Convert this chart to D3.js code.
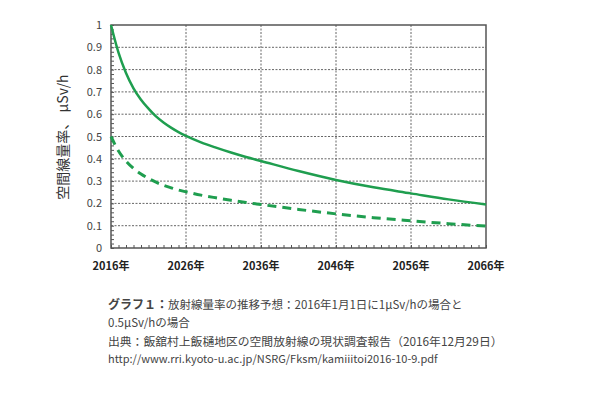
<!DOCTYPE html>
<html>
<head>
<meta charset="utf-8">
<script src="https://cdn.jsdelivr.net/npm/d3@7"></script>
<style>
body{margin:0;background:#fff;}
text{font-family:"Noto Sans CJK JP","Noto Sans",sans-serif;}
</style>
</head>
<body>
<div class="Chart"></div>
<script>
// years, denser where the curve bends
const years=[2016,2017,2018,2019,2020,2021,2022,2023,2024,2025,2026,2028,2030,2032,2034,2036,2041,2046,2051,2056,2061,2066]
const rate1=[1.0,0.876,0.785,0.716,0.665,0.625,0.59,0.563,0.54,0.52,0.503,0.474,0.45,0.428,0.408,0.39,0.345,0.305,0.272,0.245,0.218,0.195]
const rate05=[0.5,0.435,0.39,0.357,0.332,0.312,0.295,0.281,0.27,0.26,0.252,0.237,0.225,0.214,0.204,0.195,0.173,0.153,0.136,0.122,0.109,0.098]
const xTicks=[2016,2026,2036,2046,2056,2066]
const yTicks=[0,0.1,0.2,0.3,0.4,0.5,0.6,0.7,0.8,0.9,1]
const captionLines=['放射線量率の推移予想：2016年1月1日に1μSv/hの場合と','0.5μSv/hの場合']
const sourceLines=['出典：飯舘村上飯樋地区の空間放射線の現状調査報告（2016年12月29日）','http://www.rri.kyoto-u.ac.jp/NSRG/Fksm/kamiiitoi2016-10-9.pdf']

const W=600,H=394
const plot={left:111,right:486,top:25,bottom:248}
const green='#1f9e4f'

let svg=d3.select('.Chart').append('svg')
	.attr('width',W)
	.attr('height',H)

let xScale=d3.scaleLinear()
	.domain([2016,2066])
	.range([plot.left,plot.right])
let yScale=d3.scaleLinear()
	.domain([0,1])
	.range([plot.bottom,plot.top])

// dotted grid
svg.append('g')
	.selectAll('line')
	.data(yTicks.slice(1,-1))
	.join('line')
	.attr('x1',plot.left).attr('x2',plot.right)
	.attr('y1',d=>yScale(d)).attr('y2',d=>yScale(d))
	.attr('stroke','#666').attr('stroke-width',1).attr('stroke-dasharray','2,1.5')
svg.append('g')
	.selectAll('line')
	.data(xTicks.slice(1,-1))
	.join('line')
	.attr('x1',d=>xScale(d)).attr('x2',d=>xScale(d))
	.attr('y1',plot.top).attr('y2',plot.bottom)
	.attr('stroke','#666').attr('stroke-width',1).attr('stroke-dasharray','2,1.5')

// minor ticks inside the frame
let yAxis=d3.axisRight(yScale)
	.ticks(50)
	.tickSize(3)
	.tickFormat('')
svg.append('g')
	.attr('transform',`translate(${plot.left},0)`)
	.call(yAxis)
	.call(g=>g.select('.domain').remove())
	.selectAll('line').attr('stroke','#555')

let xAxis=d3.axisTop(xScale)
	.tickValues(d3.range(2016,2067))
	.tickSize(3)
	.tickFormat('')
svg.append('g')
	.attr('transform',`translate(0,${plot.bottom})`)
	.call(xAxis)
	.call(g=>g.select('.domain').remove())
	.selectAll('line').attr('stroke','#555')

// frame
svg.append('rect')
	.attr('x',plot.left).attr('y',plot.top)
	.attr('width',plot.right-plot.left).attr('height',plot.bottom-plot.top)
	.attr('fill','none').attr('stroke','#555').attr('stroke-width',1.5)

// tick labels
svg.append('g')
	.selectAll('text')
	.data(yTicks)
	.join('text')
	.attr('x',plot.left-9)
	.attr('y',d=>yScale(d)+4)
	.attr('text-anchor','end')
	.attr('font-size',11)
	.attr('fill','#444')
	.text(d=>d)

svg.append('g')
	.selectAll('text')
	.data(xTicks)
	.join('text')
	.attr('x',d=>xScale(d))
	.attr('y',plot.bottom+22)
	.attr('text-anchor','middle')
	.attr('font-size',11)
	.attr('font-weight','bold')
	.attr('fill','#222')
	.text(d=>d+'年')

svg.append('text')
	.attr('transform',`translate(68,137) rotate(-90)`)
	.attr('text-anchor','middle')
	.attr('font-size',14)
	.attr('fill','#333')
	.text('空間線量率、 μSv/h')

// curves
let line=d3.line()
	.x(d=>xScale(d.year))
	.y(d=>yScale(d.value))
	.curve(d3.curveMonotoneX)

let s1=years.map((y,i)=>({year:y,value:rate1[i]}))
let s2=years.map((y,i)=>({year:y,value:rate05[i]}))

svg.append('path')
	.datum(s1)
	.attr('d',line)
	.attr('fill','none')
	.attr('stroke',green)
	.attr('stroke-width',2.5)

svg.append('path')
	.datum(s2)
	.attr('d',line)
	.attr('fill','none')
	.attr('stroke',green)
	.attr('stroke-width',3)
	.attr('stroke-dasharray','9,6')

// caption
let cap=svg.append('text')
	.attr('x',108)
	.attr('y',309)
	.attr('font-size',11.5)
	.attr('fill','#444')
cap.append('tspan')
	.attr('font-weight','bold')
	.attr('font-size',12)
	.text('グラフ１：')
cap.append('tspan').text(captionLines[0])
svg.append('text')
	.attr('x',108)
	.attr('y',327)
	.attr('font-size',11.5)
	.attr('fill','#444')
	.text(captionLines[1])

svg.append('g')
	.selectAll('text')
	.data(sourceLines)
	.join('text')
	.attr('x',108)
	.attr('y',(d,i)=>346+i*17)
	.attr('font-size',(d,i)=>i==0?11.8:11)
	.attr('fill','#444')
	.text(d=>d)
</script>
</body>
</html>
